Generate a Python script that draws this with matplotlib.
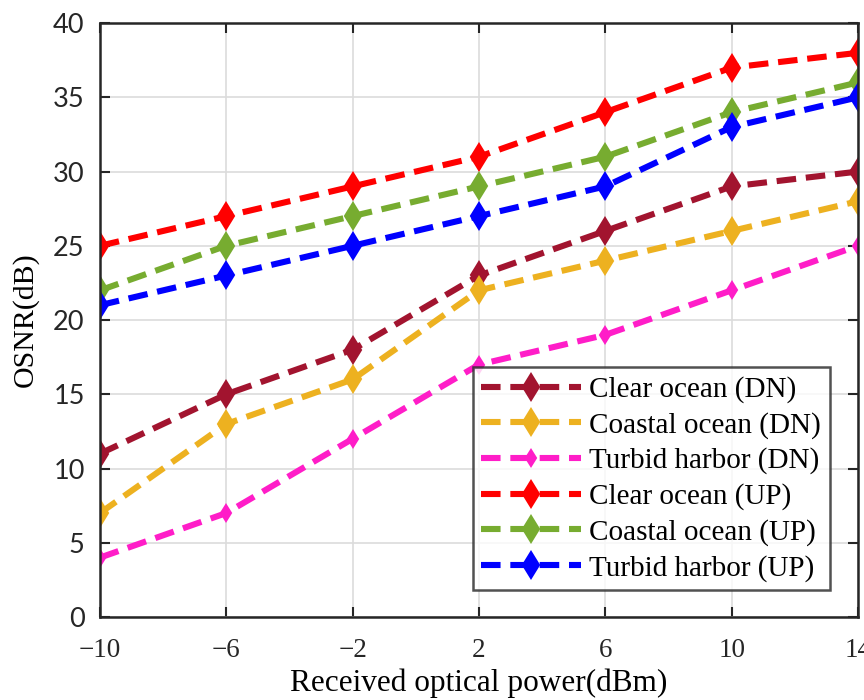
import matplotlib.pyplot as plt

plt.rcParams.update({
    "font.family": ["Liberation Serif", "DejaVu Serif"],
})

power_dbm = [-10, -6, -2, 2, 6, 10, 14]
power_labels = ["\u221210", "\u22126", "\u22122", "2", "6", "10", "14"]
osnr_ticks = [0, 5, 10, 15, 20, 25, 30, 35, 40]

clear_dn = [11, 15, 18, 23, 26, 29, 30]
coastal_dn = [7, 13, 16, 22, 24, 26, 28]
turbid_dn = [4, 7, 12, 17, 19, 22, 25]
clear_up = [25, 27, 29, 31, 34, 37, 38]
coastal_up = [22, 25, 27, 29, 31, 34, 36]
turbid_up = [21, 23, 25, 27, 29, 33, 35]

series = [
    ("Clear ocean (DN)", clear_dn, "#A2142F", 13),
    ("Coastal ocean (DN)", coastal_dn, "#EDB120", 13),
    ("Turbid harbor (DN)", turbid_dn, "#FF1DC8", 8),
    ("Clear ocean (UP)", clear_up, "#FF0000", 13),
    ("Coastal ocean (UP)", coastal_up, "#77AC30", 13),
    ("Turbid harbor (UP)", turbid_up, "#0000FF", 13),
]

fig = plt.figure(figsize=(8.64, 7.0), dpi=100)
ax = fig.add_axes([0.1157, 0.1186, 0.8773, 0.8484])

for label, vals, color, ms in series:
    ax.plot(power_dbm, vals, ls=(0, (3.2, 1.6)), lw=4.4, color=color,
            marker="d", markersize=ms, markeredgewidth=1.5,
            markerfacecolor=color, markeredgecolor=color, label=label)

ax.set_xlim(-10, 14)
ax.set_ylim(0, 40)
ax.set_xticks(power_dbm)
ax.set_xticklabels(power_labels, fontsize=19.5)
ax.set_yticks(osnr_ticks)
ax.set_yticklabels([str(t) for t in osnr_ticks], fontsize=19.5,
                   family=["Lato", "DejaVu Sans"])

ax.tick_params(direction="in", length=7, width=1.5,
               top=True, right=True, colors="#262626")
ax.tick_params(axis="x", pad=15)
ax.tick_params(axis="y", pad=11)
for sp in ax.spines.values():
    sp.set_linewidth(1.8)
    sp.set_color("#262626")

ax.grid(True, color="#dcdcdc", lw=1.2)
ax.set_axisbelow(True)

ax.set_xlabel("Received optical power(dBm)", fontsize=22.5, labelpad=4)
ax.set_ylabel("OSNR(dB)", fontsize=21.5, labelpad=10)

leg = ax.legend(loc="lower right", bbox_to_anchor=(0.963, 0.045), fontsize=21,
                frameon=True, fancybox=False, edgecolor="#262626",
                handlelength=3.4, handletextpad=0.3, borderpad=0.3,
                labelspacing=0.3, borderaxespad=0.0)
leg.get_frame().set_linewidth(1.8)

fig.savefig("out.png", dpi=100)
